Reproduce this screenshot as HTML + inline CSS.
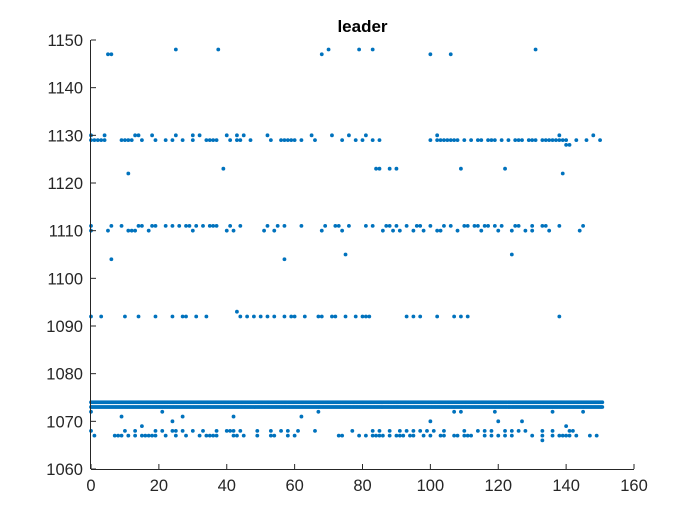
<!DOCTYPE html>
<html><head><meta charset="utf-8"><style>
body{margin:0;background:#fff;}
svg text{font-family:"Liberation Sans",Arial,sans-serif;}
</style></head><body>
<svg id="chart" width="700" height="525" viewBox="0 0 700 525" xmlns="http://www.w3.org/2000/svg">
<rect width="700" height="525" fill="#fff"/>
<g id="marks"></g>
<g id="axes"></g>
</svg>
<script>
const xTicks=[0,20,40,60,80,100,120,140,160];
const yTicks=[1060,1070,1080,1090,1100,1110,1120,1130,1140,1150];
const bandX=[0,1,2,3,4,5,6,7,8,9,10,11,12,13,14,15,16,17,18,19,20,21,22,23,24,25,26,27,28,29,30,31,32,33,34,35,36,37,38,39,40,41,42,43,44,45,46,47,48,49,50,51,52,53,54,55,56,57,58,59,60,61,62,63,64,65,66,67,68,69,70,71,72,73,74,75,76,77,78,79,80,81,82,83,84,85,86,87,88,89,90,91,92,93,94,95,96,97,98,99,100,101,102,103,104,105,106,107,108,109,110,111,112,113,114,115,116,117,118,119,120,121,122,123,124,125,126,127,128,129,130,131,132,133,134,135,136,137,138,139,140,141,142,143,144,145,146,147,148,149,150];
const bandLevels=[1073,1074];
const x1148=[5,6,25,37.5,68,70,79,83,100,106,131];
const y1148=[1147,1147,1148,1148,1147,1148,1148,1148,1147,1147,1148];
const x1129=[0,1,2,3,4,9,10,11,12,15,19,22,24,27,30,34,35,36,37,41,43,44,47,53,56,57,58,59,60,62,66,74,78,80,83,85,100,102,103,104,105,106,107,108,110,112,114,115,117,118,119,121,123,125,126,127,129,130,131,133,134,135,136,137,138,139,140,143,146,150];
const x1130=[0,4,13,14,18,25,30,32,40,43,45,52,65,71,76,81,102,138,148];
const x1128=[140,141];
const x1123=[39,84,85,88,90,109,122];
const x1122=[11,139];
const x1111=[0,6,9,14,15,18,19,22,24,26,28,29,31,33,35,36,37,41,44,52,55,57,62,69,72,73,76,81,83,87,88,90,93,96,97,100,104,106,110,111,113,114,116,117,119,121,125,126,130,133,134,138,145];
const x1110=[0,5,11,12,13,17,30,40,42,51,54,68,74,86,89,91,95,98,102,103,108,115,120,124,128,130,135,144];
const x1104=[6,57];
const x1105=[75,124];
const x1092=[0,3,10,14,19,24,27,28,31,34,44,46,48,50,52,54,57,59,60,63,67,68,71,72,75,78,80,81,82,93,95,97,102,107,109,111,138];
const x1093=[43];
const x1072=[0,21,67,107,109,119,136,145];
const x1071=[9,27,42,62];
const x1070=[24,100,120,127];
const x1069=[15,140];
const x1068=[0,10,13,19,21,24,25,27,30,33,37,40,41,42,44,49,53,56,58,61,66,77,83,85,88,91,93,95,97,99,101,104,110,114,116,118,122,124,126,128,133,136,141,142];
const x1067=[1,7,8,9,11,13,15,16,17,18,19,22,25,28,32,34,35,36,37,42,43,45,49,53,54,58,60,73,74,79,81,83,84,85,86,88,90,91,92,94,95,98,100,103,104,107,108,110,111,112,116,118,120,122,124,130,133,136,138,139,140,141,143,147,149];
const x1066=[133];

const L=91,R=634,T=40,B=469,xMin=0,xMax=160,yMin=1060,yMax=1150;
const sx=v=>L+(v-xMin)/(xMax-xMin)*(R-L);
const sy=v=>B-(v-yMin)/(yMax-yMin)*(B-T);
const NS='http://www.w3.org/2000/svg';
const marks=document.getElementById('marks'),axes=document.getElementById('axes');
function dot(x,y){
  const c=document.createElementNS(NS,'circle');
  c.setAttribute('cx',sx(x));c.setAttribute('cy',sy(y));c.setAttribute('r',1.9);c.setAttribute('fill','#0072BD');
  
  
  marks.appendChild(c);
}
bandLevels.forEach(l=>bandX.forEach(x=>{dot(x,l);dot(x+0.33,l);dot(x+0.66,l);}));
x1148.forEach((x,i)=>dot(x,y1148[i]));
const groups=[[x1129,1129],[x1130,1130],[x1128,1128],[x1123,1123],[x1122,1122],[x1111,1111],[x1110,1110],[x1104,1104],[x1105,1105],[x1092,1092],[x1093,1093],[x1072,1072],[x1071,1071],[x1070,1070],[x1069,1069],[x1068,1068],[x1067,1067],[x1066,1066]];
groups.forEach(([xs,y])=>xs.forEach(x=>dot(x,y)));
function line(x1,y1,x2,y2,name){
  const l=document.createElementNS(NS,'line');
  l.setAttribute('x1',x1);l.setAttribute('y1',y1);l.setAttribute('x2',x2);l.setAttribute('y2',y2);
  l.setAttribute('stroke','#262626');l.setAttribute('stroke-width',1);
  
  
  axes.appendChild(l);
}
function text(x,y,s,anchor,name,extra){
  const t=document.createElementNS(NS,'text');
  t.setAttribute('x',x);t.setAttribute('y',y);t.setAttribute('text-anchor',anchor);
  t.setAttribute('font-size',extra?17:16.5);t.setAttribute('fill',extra?'#000':'#262626');
  if(extra)t.setAttribute('font-weight','bold');
  t.textContent=s;
  
  
  axes.appendChild(t);
}
line(L,B+0.5,R,B+0.5,'x-axis-line');
line(L-0.5,T,L-0.5,B,'y-axis-line');
xTicks.forEach(v=>{line(sx(v),B,sx(v),B-5,'x-tick');text(sx(v),B+22,String(v),'middle','x-tick-label');});
yTicks.forEach(v=>{line(L,sy(v),L+5,sy(v),'y-tick');text(L-8,sy(v)+6,String(v),'end','y-tick-label');});
text((L+R)/2,32,'leader','middle','chart-title',true);
</script>
</body></html>
